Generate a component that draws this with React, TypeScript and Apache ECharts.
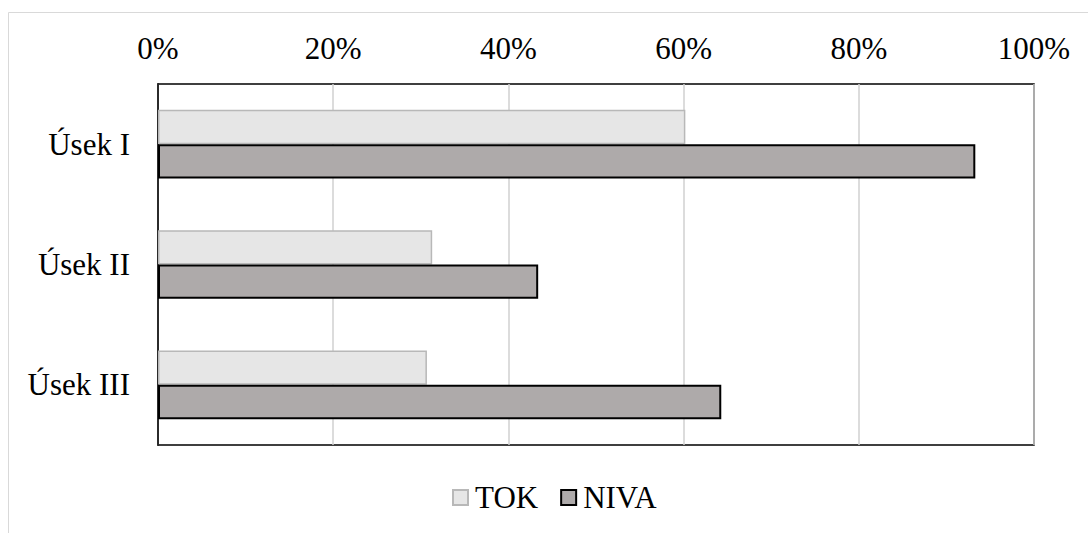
import React, { useEffect, useRef } from "react";
import * as echarts from "echarts";

const categories = ["Úsek I", "Úsek II", "Úsek III"];
const tokValues = [60.2, 31.3, 30.7];
const nivaValues = [93.3, 43.4, 64.3];
const seriesNames = ["TOK", "NIVA"];

const FONT = "Liberation Serif";
const FS = 31;

export default function App() {
  const ref = useRef<HTMLDivElement>(null);
  useEffect(() => {
    document.body.style.margin = "0";
    if (!ref.current) return;
    const chart = echarts.init(ref.current, undefined, { renderer: "svg" });
    chart.setOption({
      animation: false,
      backgroundColor: "#ffffff",
      textStyle: { fontFamily: FONT, color: "#000" },
      graphic: [
        { type: "line", shape: { x1: 8.5, y1: 12.5, x2: 1088, y2: 12.5 }, style: { stroke: "#d9d9d9", lineWidth: 1 }, silent: true },
        { type: "line", shape: { x1: 8.5, y1: 12.5, x2: 8.5, y2: 533 }, style: { stroke: "#d9d9d9", lineWidth: 1 }, silent: true },
      ],
      grid: {
        left: 158,
        top: 84,
        width: 876,
        height: 361,
        show: true,
        borderColor: "#000",
        borderWidth: 1.5,
        containLabel: false,
      },
      legend: {
        data: seriesNames,
        left: 452,
        top: 482,
        padding: 0,
        icon: "rect",
        itemWidth: 15,
        itemHeight: 15,
        itemGap: 22,
        textStyle: { fontFamily: FONT, fontSize: FS, color: "#000", padding: [0, 0, 0, 2] },
      },
      xAxis: {
        type: "value",
        position: "top",
        min: 0,
        max: 100,
        interval: 20,
        axisLine: { show: false },
        axisTick: { show: false },
        axisLabel: { formatter: "{value}%", fontFamily: FONT, fontSize: FS, color: "#000", margin: 20 },
        splitLine: { show: true, lineStyle: { color: "#d0d0d0", width: 1.5 } },
      },
      yAxis: {
        type: "category",
        data: categories,
        inverse: true,
        axisLine: { show: true, lineStyle: { color: "#000", width: 1.5 } },
        axisTick: { show: false },
        axisLabel: { fontFamily: FONT, fontSize: FS, color: "#000", margin: 28 },
      },
      series: [
        {
          name: seriesNames[0],
          type: "bar",
          data: tokValues,
          barGap: "0%",
          barCategoryGap: "43%",
          itemStyle: { color: "#e6e6e6", borderColor: "#b8b8b8", borderWidth: 1.5 },
        },
        {
          name: seriesNames[1],
          type: "bar",
          data: nivaValues,
          barGap: "0%",
          barCategoryGap: "43%",
          itemStyle: { color: "#aeaaaa", borderColor: "#000", borderWidth: 2 },
        },
      ],
    });
    return () => chart.dispose();
  }, []);
  return <div ref={ref} style={{ width: 1088, height: 533 }} />;
}
